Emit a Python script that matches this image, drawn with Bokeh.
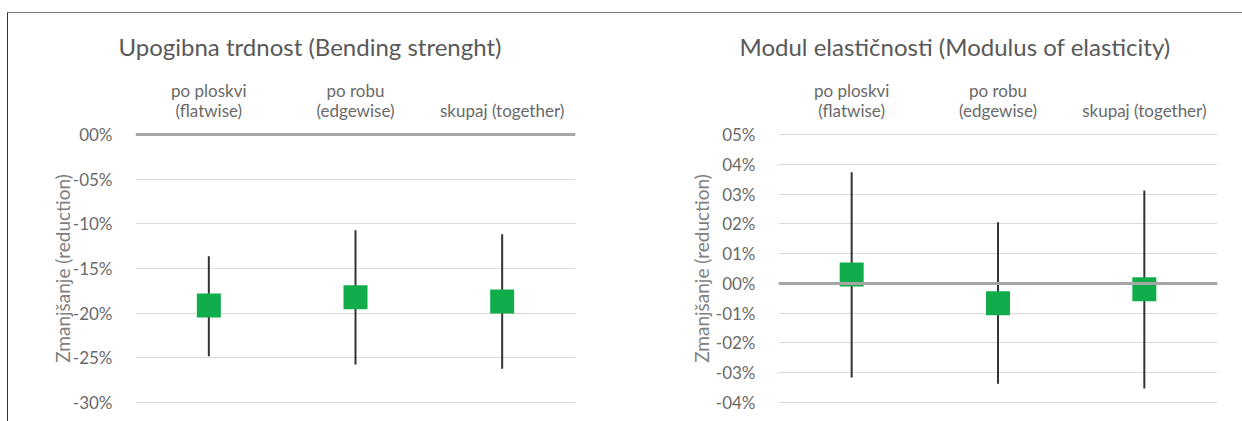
from bokeh.plotting import figure
from bokeh.models import Range1d, FactorRange, FixedTicker, Span, Title, ColumnDataSource
from bokeh.layouts import row
from bokeh.embed import file_html
from bokeh.resources import INLINE

categories = ["po ploskvi\n(flatwise)", "po robu\n(edgewise)", "skupaj (together)"]

bend_title = "Upogibna trdnost (Bending strenght)"
bend_mean = [-0.1914, -0.1823, -0.1869]
bend_low = [-0.2481, -0.2575, -0.2623]
bend_high = [-0.1362, -0.1071, -0.1116]
bend_ticks = [0.0, -0.05, -0.10, -0.15, -0.20, -0.25, -0.30]
bend_tick_labels = ["00%", "-05%", "-10%", "-15%", "-20%", "-25%", "-30%"]

moe_title = "Modul elastičnosti (Modulus of elasticity)"
moe_mean = [0.0030, -0.0067, -0.0020]
moe_low = [-0.0316, -0.0337, -0.0353]
moe_high = [0.0373, 0.0205, 0.0312]
moe_ticks = [0.05, 0.04, 0.03, 0.02, 0.01, 0.0, -0.01, -0.02, -0.03, -0.04]
moe_tick_labels = ["05%", "04%", "03%", "02%", "01%", "00%", "-01%", "-02%", "-03%", "-04%"]

y_label = "Zmanjšanje (reduction)"

FONT = "Lato"
GREEN = "#12AD4B"


def make_chart(title, title_offset, means, lows, highs, ticks, tick_labels, y0, y1,
               width, border_left, border_right, label_standoff):
    src = ColumnDataSource(dict(cat=categories, mean=means, low=lows, high=highs))
    p = figure(
        width=width, height=408,
        x_range=FactorRange(*categories),
        y_range=Range1d(y0, y1),
        x_axis_location="above",
        output_backend="svg", toolbar_location=None,
        min_border_left=border_left, min_border_right=border_right,
        min_border_top=118, min_border_bottom=16,
    )
    p.title = Title(text=title, align="left", offset=title_offset, standoff=32,
                    text_font=FONT, text_font_size="24px", text_font_style="normal",
                    text_color="#595959")
    p.outline_line_color = None
    p.xgrid.grid_line_color = None
    p.ygrid.grid_line_color = "#D9D9D9"
    p.ygrid.grid_line_width = 1

    xa = p.xaxis[0]
    xa.axis_line_color = None
    xa.major_tick_line_color = None
    xa.minor_tick_line_color = None
    xa.major_label_text_font = FONT
    xa.major_label_text_font_size = "17px"
    xa.major_label_text_color = "#6A6A6A"
    xa.major_label_text_line_height = 0.95
    xa.major_label_standoff = 5

    ya = p.yaxis[0]
    ya.ticker = FixedTicker(ticks=ticks)
    ya.major_label_overrides = {t: l for t, l in zip(ticks, tick_labels)}
    ya.axis_line_color = None
    ya.major_tick_line_color = None
    ya.minor_tick_line_color = None
    ya.major_label_text_font = FONT
    ya.major_label_text_font_size = "17px"
    ya.major_label_text_color = "#6A6A6A"
    ya.major_label_standoff = 17
    ya.axis_label = y_label
    ya.axis_label_text_font = FONT
    ya.axis_label_text_font_size = "19px"
    ya.axis_label_text_font_style = "normal"
    ya.axis_label_text_color = "#7F7F7F"
    ya.axis_label_standoff = label_standoff

    p.add_layout(Span(location=0, dimension="width", line_color="#A6A6A6", line_width=3))

    p.segment(x0="cat", y0="low", x1="cat", y1="high", source=src,
              line_color="#333333", line_width=2)
    p.scatter(x="cat", y="mean", source=src, marker="square", size=24,
              fill_color=GREEN, line_color=None)
    return p


p1 = make_chart(bend_title, -17, bend_mean, bend_low, bend_high, bend_ticks, bend_tick_labels,
                -0.30336, 0.00336, 613, 127, 46, -4)
p2 = make_chart(moe_title, -39, moe_mean, moe_low, moe_high, moe_ticks, moe_tick_labels,
                -0.041007, 0.051007, 621, 157, 25, 0)

layout = row(p1, p2, margin=(12, 0, 0, 7),
             styles={"border-top": "1px solid #777777", "border-left": "1px solid #333333"})

open("out.html", "w").write(file_html(layout, INLINE))
